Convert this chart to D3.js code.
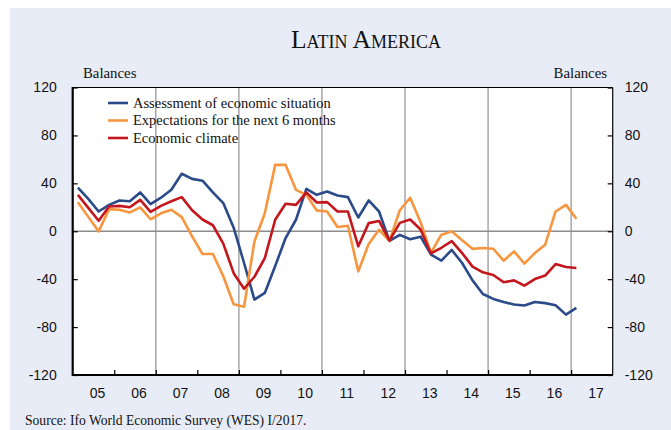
<!DOCTYPE html>
<html>
<head>
<meta charset="utf-8">
<script src="https://cdn.jsdelivr.net/npm/d3@7"></script>
<style>
  body { margin: 0; background: #fff; }
  svg { display: block; }
  .serif { font-family: "Liberation Serif", "Times New Roman", serif; }
  .sans { font-family: "Liberation Sans", Arial, sans-serif; }
</style>
</head>
<body>
<svg width="671" height="430"></svg>
<script>
// quarterly survey, 2005 Q1 .. 2017 Q1
var startYear = 2005;
var assessment = [36.5, 27, 16.5, 22, 25.7, 25, 32.4, 22.6, 28, 34.6, 48, 43.7, 42.2, 32.5, 23.5, 3,
  -26.5, -57, -51.5, -29, -5.7, 9.6, 35.4, 30.4, 33.2, 29.9, 28.5, 11.5, 25.7, 16.5, -8, -3,
  -6.7, -4.5, -19.5, -24.5, -15.6, -26.5, -41, -52.4, -56.5, -59, -61.2, -62, -59, -60, -61.8, -69.6, -64];
var expectations = [24.3, 12, -0.1, 18.5, 17.9, 15.7, 20, 10, 15, 18, 11.8, -4.3, -19, -19, -37.6, -61,
  -63, -8.5, 15, 55.4, 55.4, 34.6, 30.4, 17.4, 16.5, 3.5, 4.6, -33.5, -10.7, 1.25, -8, 17.5,
  28, 7.5, -18, -2.9, -0.1, -7.6, -14.7, -14, -14.6, -24.6, -16.8, -27, -18.2, -11.25, 16.5, 22, 10.4];
var climate = [30.4, 19.5, 8.75, 20.7, 21.2, 20, 26.2, 16.2, 21.2, 25, 28.5, 17.5, 9.8, 5, -10.3, -35,
  -48, -38, -22.4, 9.6, 22.9, 22, 32.4, 24, 24.3, 16.5, 16.5, -12.6, 6.8, 8.6, -7.8, 7,
  9.8, 1.5, -18.5, -13.8, -8.2, -18.2, -29.5, -34.3, -36.5, -42.6, -41, -45.4, -39.9, -37, -27.4, -29.9, -30.7];
var seriesNames = ["Assessment of economic situation", "Expectations for the next 6 months", "Economic climate"];
var seriesColors = ["#2b4a8a", "#f7963f", "#c4171d"];
var yearLabels = ["05", "06", "07", "08", "09", "10", "11", "12", "13", "14", "15", "16", "17"];
var yTicks = [-120, -80, -40, 0, 40, 80, 120];

var svg = d3.select("svg");

// light panel behind everything
svg.append("rect").attr("x", 10).attr("y", 8).attr("width", 661).attr("height", 422).attr("fill", "#e8ecf6");

var pLeft = 72.7, pRight = 612.7, pTop = 87.5, pBottom = 375;
var x = d3.scaleLinear().domain([2005, 2018]).range([pLeft, pRight]);
var y = d3.scaleLinear().domain([-120, 120]).range([pBottom, pTop]);

svg.append("rect").attr("x", pLeft).attr("y", pTop).attr("width", pRight - pLeft).attr("height", pBottom - pTop).attr("fill", "#fff");

// vertical grid every second year
svg.append("g").selectAll("line")
  .data([2007, 2009, 2011, 2013, 2015, 2017])
  .enter().append("line")
    .attr("x1", d => x(d)).attr("x2", d => x(d))
    .attr("y1", pTop).attr("y2", pBottom)
    .attr("stroke", "#a6a6a6").attr("stroke-width", 1.5);

svg.append("line")
  .attr("x1", pLeft).attr("x2", pRight).attr("y1", y(0)).attr("y2", y(0))
  .attr("stroke", "#8c8c8c").attr("stroke-width", 1.3);

// axes (plain hyphen minus like the original)
var fmt = d => String(d);
var yLeft = d3.axisLeft(y).tickValues(yTicks).tickSize(-5).tickPadding(16).tickFormat(fmt);
var yRight = d3.axisRight(y).tickValues(yTicks).tickSize(-5).tickPadding(17).tickFormat(fmt);
var xAxis = d3.axisBottom(x).tickValues(d3.range(2006, 2018)).tickSize(-5).tickFormat("");

var gl = svg.append("g").attr("transform", "translate(" + pLeft + ",0)").call(yLeft);
var gr = svg.append("g").attr("transform", "translate(" + pRight + ",0)").call(yRight);
var gb = svg.append("g").attr("transform", "translate(0," + pBottom + ")").call(xAxis);

[gl, gr, gb].forEach(function(g) {
  g.selectAll("text").attr("class", "sans").style("font-size", "14px").attr("fill", "#111");
  g.selectAll("line").attr("stroke", "#000").attr("stroke-width", 1.2);
  g.select(".domain").remove();
});
gr.selectAll("text").attr("text-anchor", "start").attr("x", 12);

// frame
svg.append("line").attr("x1", pLeft).attr("x2", pRight).attr("y1", pTop).attr("y2", pTop).attr("stroke", "#000").attr("stroke-width", 1.2);
svg.append("line").attr("x1", pRight).attr("x2", pRight).attr("y1", pTop).attr("y2", pBottom).attr("stroke", "#000").attr("stroke-width", 1.2);
svg.append("line").attr("x1", pLeft).attr("x2", pLeft).attr("y1", pTop - 0.6).attr("y2", pBottom + 1).attr("stroke", "#000").attr("stroke-width", 2.2);
svg.append("line").attr("x1", pLeft).attr("x2", pRight).attr("y1", pBottom).attr("y2", pBottom).attr("stroke", "#000").attr("stroke-width", 2.2);

// year labels, centred in each year
svg.append("g").selectAll("text")
  .data(yearLabels)
  .enter().append("text")
    .attr("class", "sans")
    .attr("x", (d, i) => x(startYear + i + 0.5) + 4)
    .attr("y", 398)
    .attr("text-anchor", "middle")
    .style("font-size", "14px")
    .attr("fill", "#111")
    .text(d => d);

// series lines
var line = d3.line()
  .x((d, i) => x(startYear + 0.125 + i * 0.25))
  .y(d => y(d));

[assessment, expectations, climate].forEach(function(s, k) {
  svg.append("path")
    .datum(s)
    .attr("d", line)
    .attr("fill", "none")
    .attr("stroke", seriesColors[k])
    .attr("stroke-width", 2.6)
    .attr("stroke-linejoin", "round");
});

// legend
var legend = svg.append("g").selectAll("g")
  .data(seriesNames)
  .enter().append("g")
    .attr("transform", (d, i) => "translate(108," + (103 + i * 17.5) + ")");
legend.append("line")
  .attr("x1", 0).attr("x2", 20)
  .attr("stroke", (d, i) => seriesColors[i]).attr("stroke-width", 2.6);
legend.append("text")
  .attr("class", "serif")
  .attr("x", 25).attr("y", 4.5)
  .style("font-size", "14.5px")
  .attr("fill", "#111")
  .text(d => d);

// titles
svg.append("text")
  .attr("class", "serif")
  .attr("x", 366).attr("y", 48)
  .attr("text-anchor", "middle")
  .style("font-size", "25.5px")
  .style("font-variant", "small-caps")
  .attr("fill", "#111")
  .text("Latin America");

svg.append("text").attr("class", "serif").attr("x", 83).attr("y", 78)
  .style("font-size", "14.8px").attr("fill", "#111").text("Balances");
svg.append("text").attr("class", "serif").attr("x", 607).attr("y", 78).attr("text-anchor", "end")
  .style("font-size", "14.8px").attr("fill", "#111").text("Balances");

svg.append("text").attr("class", "serif").attr("x", 25).attr("y", 425)
  .style("font-size", "13.6px").attr("fill", "#111")
  .text("Source: Ifo World Economic Survey (WES) I/2017.");
</script>
</body>
</html>
